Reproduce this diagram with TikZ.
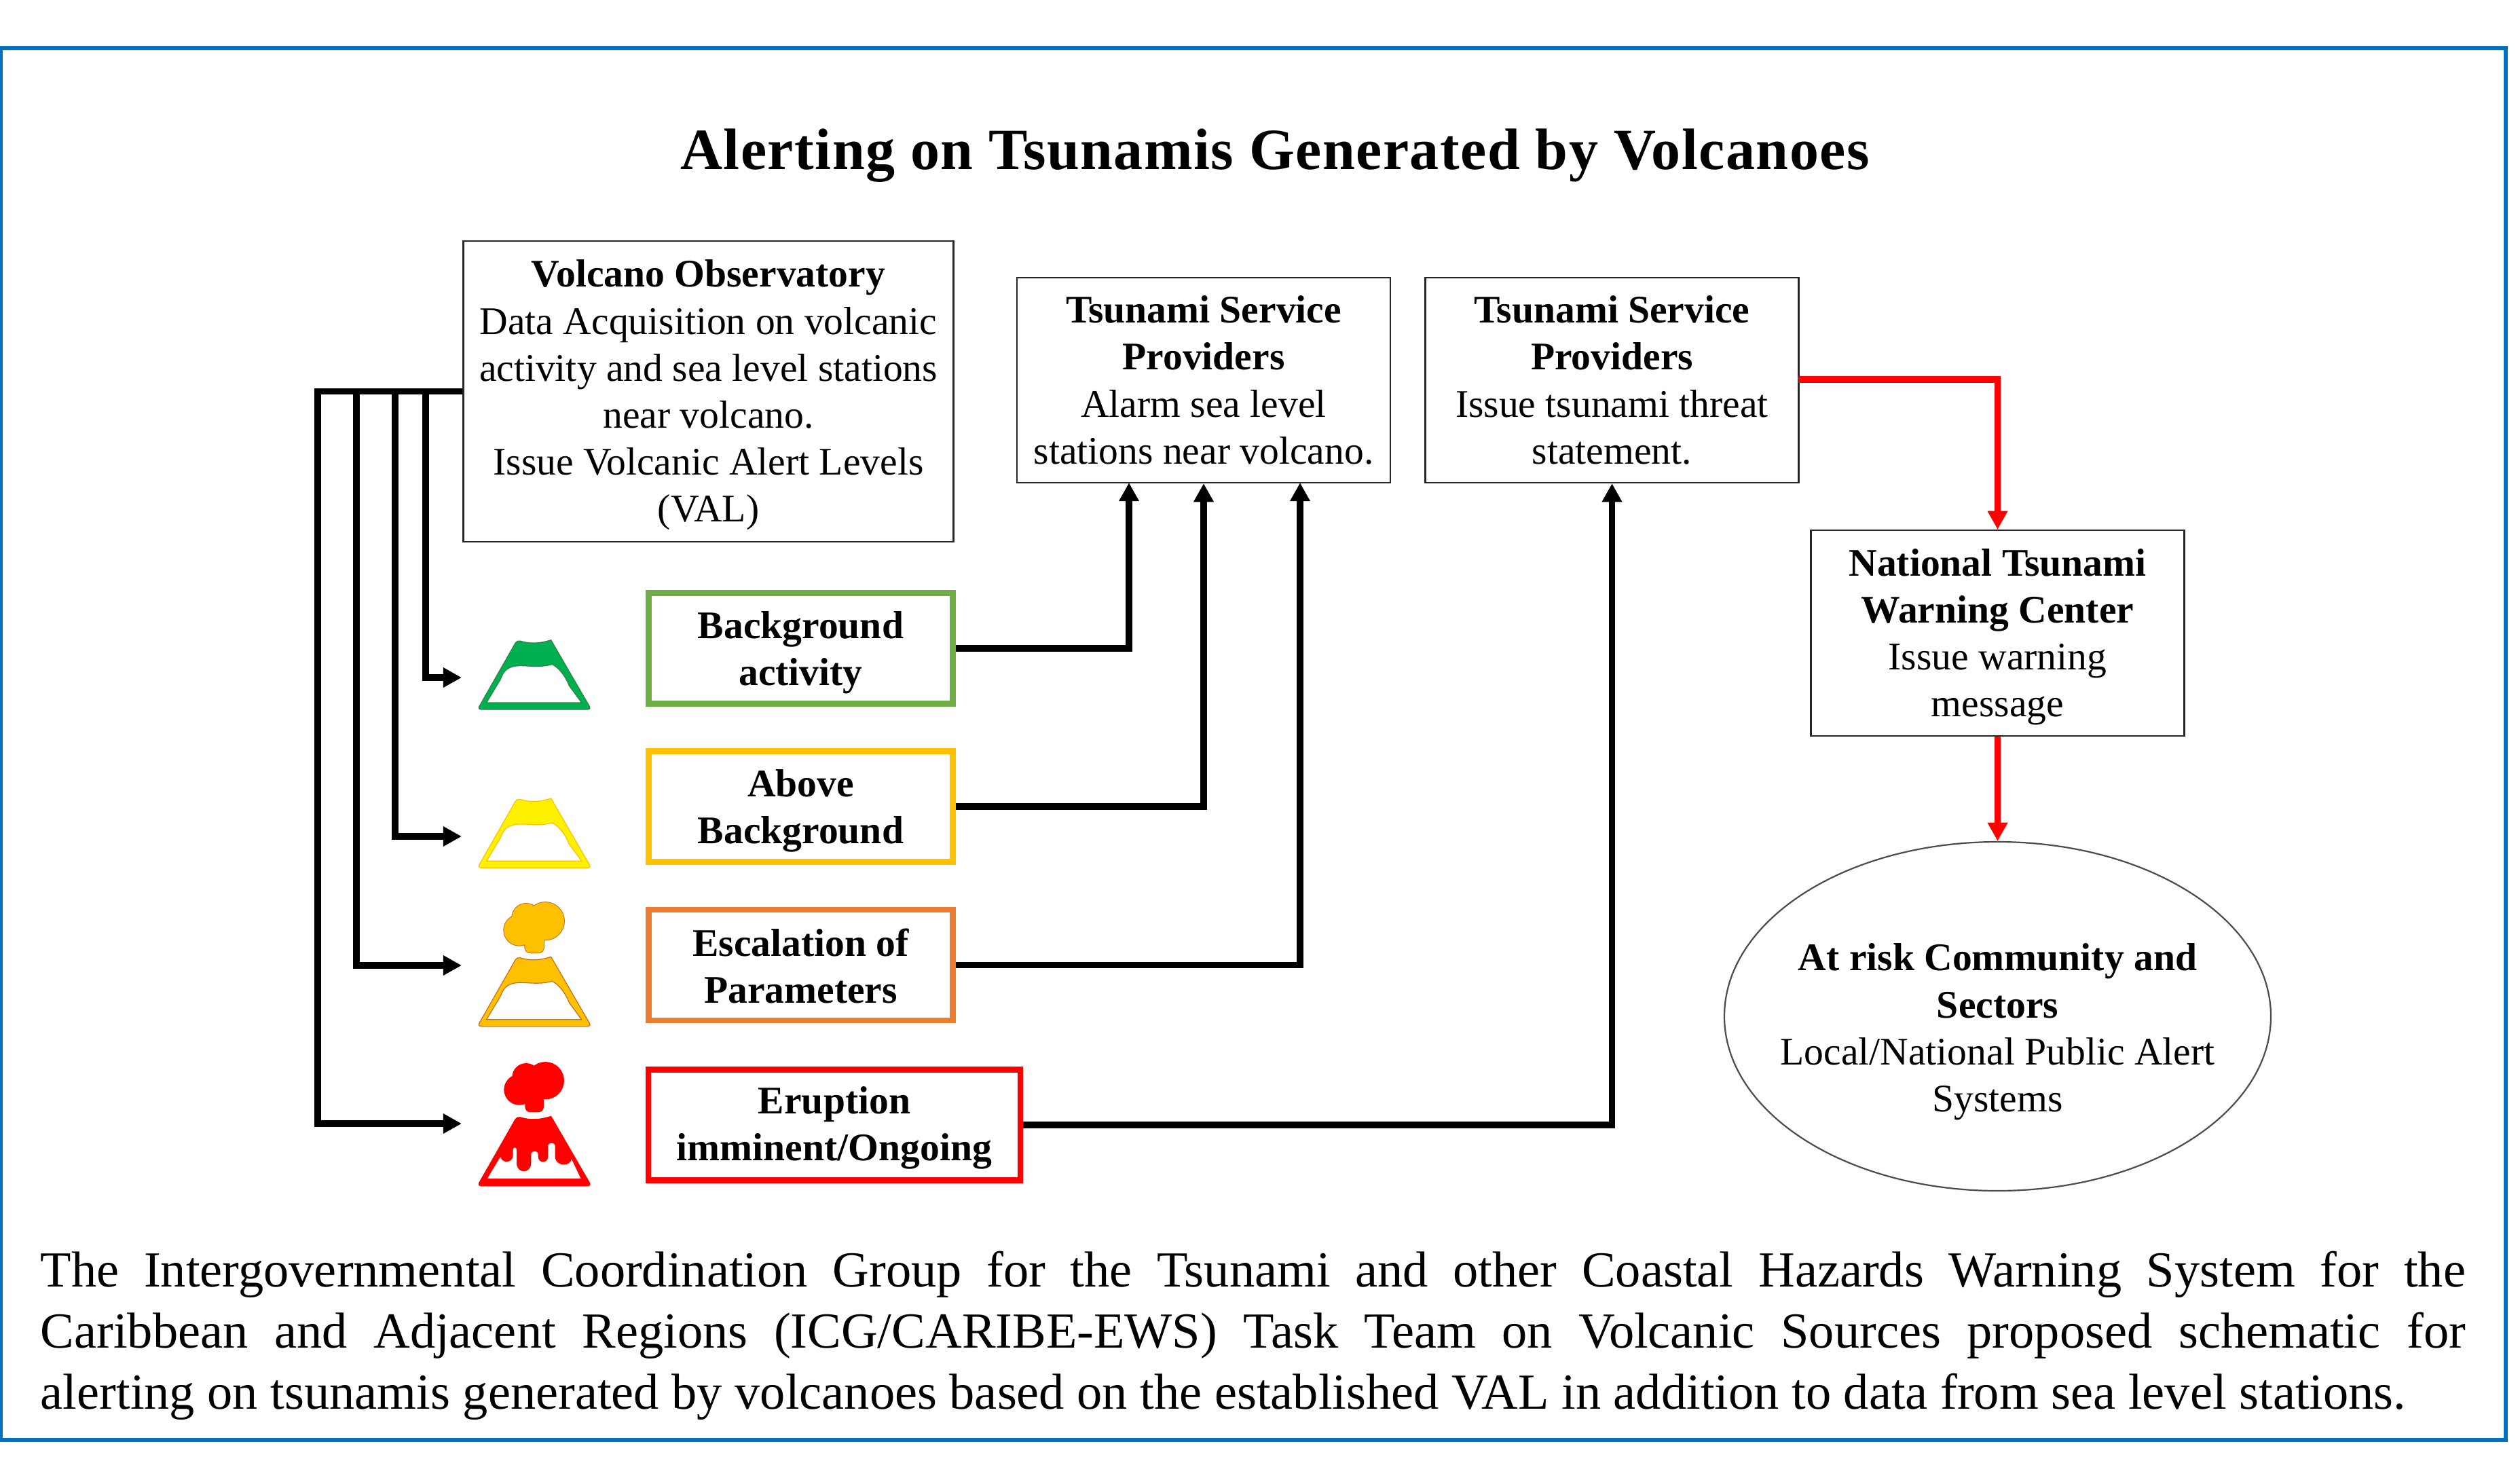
\documentclass[tikz,border=0pt]{standalone}
\usepackage{fontspec}
\setmainfont{Liberation Serif}
\usetikzlibrary{arrows.meta,shapes.geometric}
\definecolor{frameblue}{HTML}{0070C0}
\definecolor{alertgreen}{RGB}{112,173,71}
\definecolor{alertyellow}{RGB}{255,192,0}
\definecolor{alertorange}{RGB}{237,125,49}
\definecolor{volcgreen}{RGB}{0,176,80}
\definecolor{volcgreenedge}{RGB}{50,130,70}
\definecolor{volcyellow}{RGB}{255,242,0}
\definecolor{volcorange}{RGB}{255,192,0}
\definecolor{volcorangeedge}{RGB}{197,110,30}
\newcommand{\bodyfont}{\fontsize{14.4}{17.3}\selectfont}
\newcommand{\capfont}{\fontsize{18.6}{22.5}\selectfont}
\newcommand{\toprow}[1]{\rule{0pt}{#1pt}}
\newcommand{\volcshape}{[rounded corners=1.2pt] (790,495) -- (965,188) [sharp corners] .. controls (1020,205) and (1060,205) .. (1115,188) [rounded corners=1.2pt] -- (1293,495) -- cycle [sharp corners]}
\newcommand{\snowline}{(830,465) -- (893,360) .. controls (905,320) and (930,305) .. (970,302) .. controls (1010,300) and (1060,312) .. (1120,296) .. controls (1150,310) and (1180,350) .. (1195,390) -- (1250,465) -- cycle}
\newcommand{\lavaline}{(830,465) -- (893,360) .. controls (893,395) and (945,395) .. (945,360) -- (945,335) .. controls (945,320) and (965,320) .. (965,335) -- (965,395) .. controls (965,440) and (1025,440) .. (1025,395) -- (1025,355) .. controls (1025,335) and (1060,335) .. (1060,355) -- (1060,365) .. controls (1060,395) and (1100,395) .. (1100,365) -- (1100,320) .. controls (1100,298) and (1135,298) .. (1135,320) -- (1135,365) .. controls (1135,410) and (1205,410) .. (1205,370) -- (1250,465) -- cycle}
\newcommand{\cloudshape}{(1005,15) circle[radius=62] (1090,30) circle[radius=83] (975,70) circle[radius=68] (1050,60) circle[radius=50]}
\newcommand{\stemshape}{[rounded corners=2pt] (1000,60) rectangle (1083,170)}
\tikzset{
  thinbox/.style={draw=black!85,line width=.55pt,align=center,inner sep=0pt,font=\bodyfont},
  alertbox/.style={line width=2.1pt,align=center,inner sep=0pt,font=\bodyfont\bfseries,minimum height=40.75pt},
  blackarrow/.style={draw=black,line width=2.35pt,-{Triangle[length=6.8pt,width=7pt]}},
  redarrow/.style={draw=red,line width=2.35pt,-{Triangle[length=6.8pt,width=7pt]}},
  captionline/.style={anchor=base west,inner sep=0pt,font=\capfont},
  volcscope/.style={shift={(440,#1)},x=.08333pt,y=-.08333pt},
}
\begin{document}
\begin{tikzpicture}[x=.25pt,y=-.25pt]
\useasboundingbox (0,0) rectangle (3712,2151);
\fill[white] (0,0) rectangle (3712,2151);
\node[draw=frameblue,line width=1.5pt,minimum width=922.5pt,minimum height=512.5pt,inner sep=0pt] (frame) at (1846,1096) {};
\node[inner sep=0pt,font=\fontsize{21.5}{26}\selectfont\bfseries\addfontfeature{LetterSpace=1.7}] (title) at (1878,229) {Alerting on Tsunamis Generated by Volcanoes};
\node[thinbox,minimum width=180.5pt,minimum height=110.75pt] (vo) at (1043.5,576.5) {\toprow{12.8}\textbf{Volcano Observatory}\\Data Acquisition on volcanic\\activity and sea level stations\\near volcano.\\Issue Volcanic Alert Levels\\(VAL)};
\node[thinbox,minimum width=137.5pt,minimum height=75.5pt] (tspa) at (1773,560) {\textbf{Tsunami Service}\\\textbf{Providers}\\Alarm sea level\\stations near volcano.};
\node[thinbox,minimum width=137.5pt,minimum height=75.5pt] (tspb) at (2374.5,560) {\textbf{Tsunami Service}\\\textbf{Providers}\\Issue tsunami threat\\statement.};
\node[thinbox,minimum width=137.5pt,minimum height=75.75pt] (ntwc) at (2942.5,932.5) {\toprow{12.8}\textbf{National Tsunami}\\\textbf{Warning Center}\\Issue warning\\message};
\node[ellipse,draw=black!70,line width=.55pt,inner sep=0pt,minimum width=201.25pt,minimum height=128.5pt] (risk) at (2942.5,1497) {};
\node[inner sep=0pt,align=center,font=\bodyfont] (risktext) at (2942.5,1520) {\textbf{At risk Community and}\\\textbf{Sectors}\\Local/National Public Alert\\Systems};
\node[alertbox,draw=alertgreen,minimum width=112pt] (bg) at (1179.5,955) {\toprow{13.3}Background\\activity};
\node[alertbox,draw=alertyellow,minimum width=112pt] (ab) at (1179.5,1188) {\toprow{13.3}Above\\Background};
\node[alertbox,draw=alertorange,minimum width=112pt] (es) at (1179.5,1421.5) {\toprow{11}Escalation of\\Parameters};
\node[alertbox,draw=red,minimum width=137pt] (er) at (1229,1657) {\toprow{12.2}Eruption\\imminent/Ongoing};
% volcano icons
\begin{scope}[volcscope=880]
  \path[even odd rule,fill=volcgreen,draw=volcgreenedge,line width=.3pt] \volcshape \snowline;
\end{scope}
\begin{scope}[volcscope=1113.3]
  \path[even odd rule,fill=volcyellow,draw=alertyellow,line width=.3pt] \volcshape \snowline;
\end{scope}
\begin{scope}[volcscope=1346.7]
  \path[draw=volcorangeedge,line width=.5pt] \cloudshape;
  \path[draw=volcorangeedge,line width=.5pt] \stemshape;
  \path[fill=volcorange] \cloudshape;
  \path[fill=volcorange] \stemshape;
  \path[even odd rule,fill=volcorange,draw=volcorangeedge,line width=.3pt] \volcshape \snowline;
\end{scope}
\begin{scope}[volcscope=1581.7]
  \path[fill=red] \cloudshape;
  \path[fill=red] \stemshape;
  \path[even odd rule,fill=red,draw=red,line width=.3pt] \volcshape \lavaline;
\end{scope}
% connector ends
\coordinate (tipa) at (680,998);
\coordinate (tipb) at (680,1232);
\coordinate (tipc) at (680,1422);
\coordinate (tipd) at (680,1655);
\coordinate (busa) at (627,998);
\coordinate (busb) at (582,1232);
\coordinate (busc) at (525,1422);
\coordinate (busd) at (468,1655);
\coordinate (upa) at (1663,711);
\coordinate (upc) at (1915,711);
\draw[blackarrow] (vo.west) -| (busa) -- (tipa);
\draw[blackarrow] (vo.west) -| (busb) -- (tipb);
\draw[blackarrow] (vo.west) -| (busc) -- (tipc);
\draw[blackarrow] (vo.west) -| (busd) -- (tipd);
\draw[blackarrow] (bg.east) -| (upa);
\draw[blackarrow] (ab.east) -| (tspa.south);
\draw[blackarrow] (es.east) -| (upc);
\draw[blackarrow] (er.east) -| (tspb.south);
\coordinate (redout) at (2649,559);
\draw[redarrow] (redout) -| (ntwc.north);
\draw[redarrow] (ntwc.south) -- (risk.north);
% caption
\node[captionline] (capa) at (59,1895) {\makebox[893pt][s]{The Intergovernmental Coordination Group for the Tsunami and other Coastal Hazards Warning System for the}};
\node[captionline] (capb) at (59,1985) {\makebox[893pt][s]{Caribbean and Adjacent Regions (ICG/CARIBE-EWS) Task Team on Volcanic Sources proposed schematic for}};
\node[captionline] (capc) at (59,2075) {alerting on tsunamis generated by volcanoes based on the established VAL in addition to data from sea level stations.};
\end{tikzpicture}
\end{document}
